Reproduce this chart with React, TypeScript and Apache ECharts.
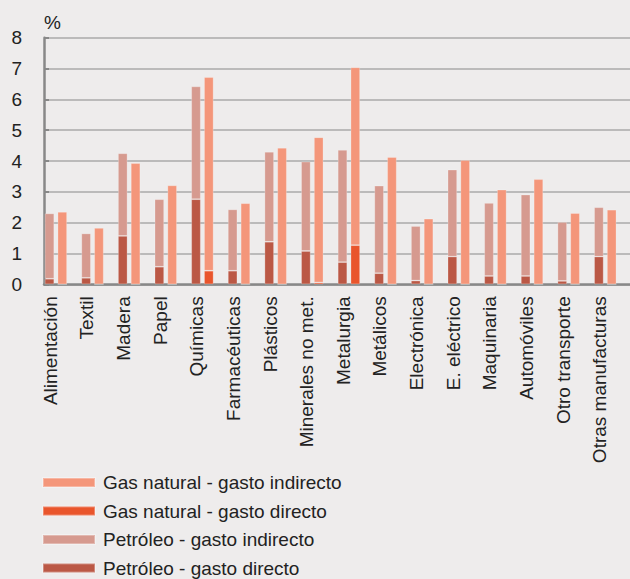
import React, { useEffect, useRef } from "react";
import * as echarts from "echarts";

const categories = [
  "Alimentación", "Textil", "Madera", "Papel", "Químicas", "Farmacéuticas",
  "Plásticos", "Minerales no met.", "Metalurgia", "Metálicos", "Electrónica",
  "E. eléctrico", "Maquinaria", "Automóviles", "Otro transporte", "Otras manufacturas",
];

const petroleoDirecto = [0.18, 0.21, 1.57, 0.57, 2.76, 0.44, 1.38, 1.08, 0.72, 0.36, 0.12, 0.9, 0.27, 0.27, 0.11, 0.9];
const petroleoIndirecto = [2.12, 1.44, 2.68, 2.19, 3.66, 1.99, 2.92, 2.9, 3.64, 2.84, 1.77, 2.82, 2.37, 2.64, 1.91, 1.6];
const gasDirecto = [0, 0, 0, 0, 0.44, 0, 0, 0.06, 1.27, 0, 0, 0, 0, 0, 0, 0];
const gasIndirecto = [2.35, 1.83, 3.93, 3.21, 6.28, 2.63, 4.43, 4.71, 5.77, 4.13, 2.13, 4.03, 3.07, 3.41, 2.31, 2.42];
const yTicks = [0, 1, 2, 3, 4, 5, 6, 7, 8];

const FONT = '"Liberation Sans", Arial, Helvetica, sans-serif';

export default function App() {
  const ref = useRef<HTMLDivElement>(null);
  useEffect(() => {
    document.body.style.margin = "0";
    const chart = echarts.init(ref.current!, null, { renderer: "svg" });
    const barBase = {
      type: "bar",
      barWidth: 9.5,
      barGap: "35%",
      itemStyle: { borderColor: "rgba(255,255,255,0.3)", borderWidth: 0.8 },
    };
    chart.setOption({
      animation: false,
      backgroundColor: "#eeecec",
      textStyle: { fontFamily: FONT },
      grid: { left: 44, top: 37.7, width: 602, height: 246.6, containLabel: false },
      legend: {
        orient: "vertical",
        left: 37,
        top: 468,
        height: 300,
        icon: "rect",
        itemWidth: 52,
        itemHeight: 9,
        itemGap: 9.5,
        data: [
          "Gas natural - gasto indirecto",
          "Gas natural - gasto directo",
          "Petróleo - gasto indirecto",
          "Petróleo - gasto directo",
        ],
        textStyle: { fontSize: 19, color: "#222", fontFamily: FONT, lineHeight: 18.5, padding: [0, 0, 0, 3] },
      },
      xAxis: {
        type: "category",
        data: categories,
        axisLine: { lineStyle: { color: "#888", width: 2.5 } },
        axisTick: { inside: true, length: 5, lineStyle: { color: "#999", width: 2 } },
        axisLabel: {
          interval: 0,
          rotate: 90,
          margin: 12,
          fontSize: 19,
          color: "#222",
          fontFamily: FONT,
          verticalAlign: "bottom",
          lineHeight: 24,
        },
      },
      yAxis: {
        type: "value",
        min: yTicks[0],
        max: yTicks[yTicks.length - 1],
        interval: 1,
        name: "%",
        nameLocation: "end",
        nameGap: 6,
        nameTextStyle: { fontSize: 19, color: "#222", align: "left", fontFamily: FONT },
        axisLine: { show: true, lineStyle: { color: "#888", width: 2.5 } },
        axisTick: { show: true, inside: true, length: 5, lineStyle: { color: "#888", width: 2 } },
        axisLabel: { fontSize: 19, color: "#222", margin: 22, fontFamily: FONT },
        splitLine: { lineStyle: { color: "#aaa", width: 1.5 } },
      },
      series: [
        { ...barBase, name: "Petróleo - gasto directo", stack: "p", data: petroleoDirecto, color: "#bb5845" },
        { ...barBase, name: "Petróleo - gasto indirecto", stack: "p", data: petroleoIndirecto, color: "#d69a8f" },
        { ...barBase, name: "Gas natural - gasto directo", stack: "g", data: gasDirecto, color: "#e9552c" },
        { ...barBase, name: "Gas natural - gasto indirecto", stack: "g", data: gasIndirecto, color: "#f4967a" },
        { ...barBase, name: "_slot", stack: "d", data: categories.map(() => "-"), color: "transparent" },
      ],
    });
    return () => chart.dispose();
  }, []);
  return <div ref={ref} style={{ position: "absolute", left: 0, top: 0, width: 630, height: 579 }} />;
}
